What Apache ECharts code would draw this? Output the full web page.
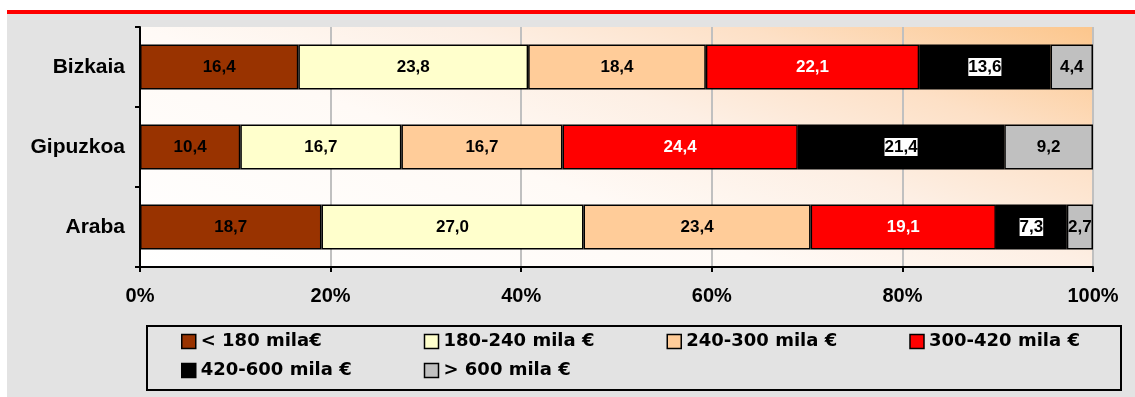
<!DOCTYPE html>
<html lang="eu">
<head>
	<meta charset="UTF-8">
	<title>Etxebizitzen prezioa</title>
	<script src="https://cdn.jsdelivr.net/npm/echarts@6/dist/echarts.min.js"></script>
	<style>
		body{margin:0;background:#fff;}
	</style>
</head>
<body>
	<div id="app" style="width: 1135px;height:397px"></div>

	<script>
		// datuak (irudiko balioak)
		var categories=["Bizkaia","Gipuzkoa","Araba"];
		var seriesNames=["< 180 mila€","180-240 mila €","240-300 mila €","300-420 mila €","420-600 mila €","> 600 mila €"];
		var lt180=[16.4, 10.4, 18.7];
		var r180_240=[23.8, 16.7, 27.0];
		var r240_300=[18.4, 16.7, 23.4];
		var r300_420=[22.1, 24.4, 19.1];
		var r420_600=[13.6, 21.4, 7.3];
		var gt600=[4.4, 9.2, 2.7];
		var xTicks=[0, 20, 40, 60, 80, 100];
		var colors=["#993300","#ffffcc","#ffcc99","#ff0000","#000000","#c0c0c0"];

		var allValues=[lt180,r180_240,r240_300,r300_420,r420_600,gt600];
		// totals per territory, bars are drawn as 100%
		var totals=categories.map(function(c,i){
			return allValues.reduce(function(s,arr){return s+arr[i];},0);
		});

		var labelColors=["#000","#000","#000","#fff","#000","#000"];

		var series=allValues.map(function(arr,k){
			return {
				name:seriesNames[k],
				type:"bar",
				stack:"total",
				barWidth:45,
				itemStyle:{color:colors[k],borderColor:"#000",borderWidth:1.5},
				label:{
					show:true,
					position:"inside",
					color:labelColors[k],
					fontFamily:"Liberation Sans",
					fontWeight:"bold",
					fontSize:17,
					backgroundColor:k===4?"#fff":"transparent",
					padding:k===4?[1,0,0,0]:0,
					formatter:function(p){return p.data.raw.toFixed(1).replace(".",",");}
				},
				data:arr.map(function(v,i){return {value:v/totals[i]*100,raw:v};})
			};
		});

		var myChart=echarts.init(document.getElementById('app'));
		var option={
			animation:false,
			backgroundColor:"#fff",
			graphic:[
				{type:"rect",z:-10,shape:{x:7,y:14,width:1128,height:383},style:{fill:"#e3e3e3"}},
				{type:"rect",z:-10,shape:{x:7,y:10,width:1128,height:4},style:{fill:"#ff0000"}},
				{type:"rect",z:-10,shape:{x:147,y:326,width:974,height:64},style:{fill:"none",stroke:"#000",lineWidth:2}}
			],
			grid:{
				left:140,right:42,top:27,bottom:130,
				show:true,
				borderWidth:0,
				backgroundColor:{
					type:"linear",x:0,y:1,x2:0.208,y2:-1.188,
					colorStops:[
						{offset:0,color:"#ffffff"},
						{offset:0.4,color:"#fffaf6"},
						{offset:0.6,color:"#fdefe4"},
						{offset:0.78,color:"#fde0c6"},
						{offset:1,color:"#fcc68c"}
					]
				}
			},
			legend:{
				left:181,top:332,width:970,
				padding:0,
				itemGap:10,
				itemWidth:14,itemHeight:14,
				icon:"rect",
				itemStyle:{borderColor:"#000",borderWidth:1.5},
				textStyle:{
					color:"#000",fontFamily:"DejaVu Sans",fontWeight:"bold",
					fontSize:18,lineHeight:19,width:213
				},
				data:seriesNames
			},
			xAxis:{
				type:"value",
				min:xTicks[0],max:xTicks[xTicks.length-1],interval:20,
				axisLine:{show:true,lineStyle:{color:"#000",width:2}},
				axisTick:{show:true,length:5,lineStyle:{color:"#000",width:2}},
				splitLine:{show:true,lineStyle:{color:"#c0c0c0",width:2}},
				axisLabel:{
					color:"#000",fontFamily:"Liberation Sans",fontWeight:"bold",fontSize:20,margin:19,
					formatter:"{value}%"
				}
			},
			yAxis:{
				type:"category",
				inverse:true,
				data:categories,
				axisLine:{show:true,lineStyle:{color:"#000",width:2}},
				axisTick:{show:true,length:5,lineStyle:{color:"#000",width:2}},
				axisLabel:{color:"#000",fontFamily:"Liberation Sans",fontWeight:"bold",fontSize:21,margin:15}
			},
			series:series
		};
		myChart.setOption(option);
	</script>
</body>
</html>
